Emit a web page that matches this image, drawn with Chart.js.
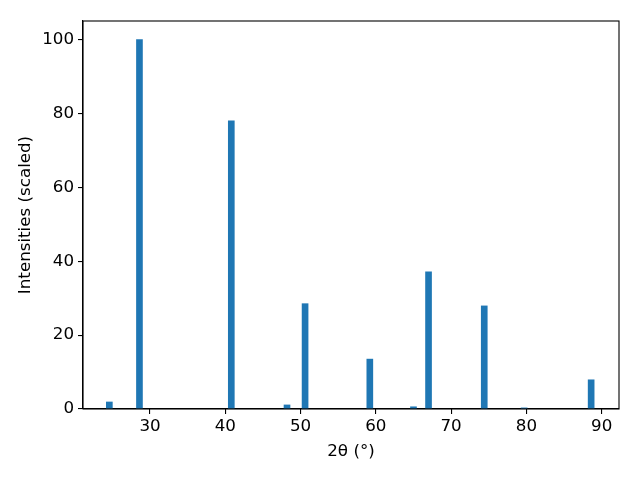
<!DOCTYPE html>
<html>
<head>
<meta charset="utf-8">
<script src="https://cdn.jsdelivr.net/npm/chart.js@4/dist/chart.umd.min.js"></script>
<style>
  body { margin: 0; background: #fff; }
</style>
</head>
<body>
<canvas id="grafico" width="640" height="480"></canvas>
<script>
// posiciones de los picos (2 theta) y sus intensidades
const twoTheta = [24.6, 28.6, 40.8, 48.2, 50.6, 59.2, 65.0, 67.0, 74.4, 79.7, 88.6]
const intensidad = [1.9, 100, 78.0, 1.1, 28.5, 13.5, 0.6, 37.1, 27.9, 0.3, 7.9]

const ticksX = [30, 40, 50, 60, 70, 80, 90]
const ticksY = [0, 20, 40, 60, 80, 100]

const fuente = { family: 'DejaVu Sans', size: 16.7 }

// marco negro alrededor del area del grafico
const marco = {
    id: 'marco',
    afterDraw(chart) {
        const { ctx, chartArea: a } = chart
        ctx.save()
        ctx.strokeStyle = '#000'
        ctx.lineWidth = 1.1
        ctx.strokeRect(a.left, a.top, a.right - a.left, a.bottom - a.top)
        ctx.restore()
    }
}

const data = {
    datasets: [{
        data: twoTheta.map((x, i) => ({ x: x, y: intensidad[i] })),
        backgroundColor: '#1f77b4',
        borderWidth: 0,
        barThickness: 6
    }]
}

const options = {
    responsive: false,
    animation: false,
    layout: { padding: { top: 21, right: 21, left: 0, bottom: 0 } },
    plugins: {
        legend: { display: false },
        tooltip: { enabled: false }
    },
    scales: {
        x: {
            type: 'linear',
            offset: false,
            min: 21.1,
            max: 92.3,
            afterBuildTicks: s => { s.ticks = ticksX.map(v => ({ value: v })) },
            afterFit: s => { s.height = 71 },
            grid: { offset: false, drawOnChartArea: false, tickLength: 5, color: '#000', lineWidth: 1.1 },
            border: { color: '#000', width: 1.1 },
            ticks: { color: '#000', font: fuente, padding: 3, maxRotation: 0 },
            title: { display: true, text: '2θ (°)', color: '#000', font: fuente, padding: { top: 4, bottom: 18 } }
        },
        y: {
            min: 0,
            max: 105,
            afterBuildTicks: s => { s.ticks = ticksY.map(v => ({ value: v })) },
            afterFit: s => { s.width = 83 },
            grid: { drawOnChartArea: false, tickLength: 5, color: '#000', lineWidth: 1.1 },
            border: { color: '#000', width: 1.1 },
            ticks: { color: '#000', font: fuente, padding: 4 },
            title: { display: true, text: 'Intensities (scaled)', color: '#000', font: fuente, padding: { top: 16, bottom: 4 } }
        }
    }
}

new Chart(document.getElementById('grafico').getContext('2d'), { type: 'bar', data, options, plugins: [marco] })
</script>
</body>
</html>
